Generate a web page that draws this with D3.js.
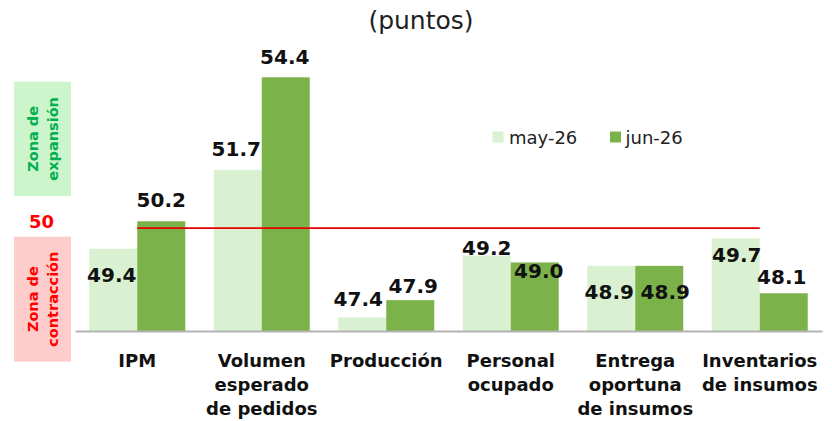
<!DOCTYPE html>
<html>
<head>
<meta charset="utf-8">
<script src="https://cdn.jsdelivr.net/npm/d3@7"></script>
<style>
  html, body { margin: 0; padding: 0; background: #fff; }
  svg { display: block; }
</style>
</head>
<body>
<svg id="chart" width="832" height="421"></svg>
<script>
// ---------- data ----------
const categories = [
  ["IPM"],
  ["Volumen", "esperado", "de pedidos"],
  ["Producción"],
  ["Personal", "ocupado"],
  ["Entrega", "oportuna", "de insumos"],
  ["Inventarios", "de insumos"]
];
const seriesNames = ["may-26", "jun-26"];
const may26 = [49.4, 51.7, 47.4, 49.2, 48.9, 49.7];
const jun26 = [50.2, 54.4, 47.9, 49.0, 48.9, 48.1];
const threshold = 50;
const thresholdLabel = "50";
const titleText = "(puntos)";
const zoneExpansion = ["Zona de", "expansión"];
const zoneContraction = ["Zona de", "contracción"];

// ---------- layout / style ----------
const W = 832, H = 421;
const colors = ["#d9f1d0", "#7cb24a"];
const fontFam = "'DejaVu Sans', sans-serif";
// label placement tweaks (relative to bar top / bar centre), per series
const labelDy = [[33, -14, -11, -1, 33, 24], [-14, -13, -7, 16, 33, -9]];
const labelDx = [[-1.5, -1.5, -4, 0, -2, 1], [0, -1, 3, 4, 6, -2]];

const svg = d3.select("#chart");
const ids = categories.map((c, i) => i);

const x = d3.scaleBand().domain(ids).range([75, 822]).paddingInner(0.229).paddingOuter(0.1145);
const xs = d3.scaleBand().domain([0, 1]).range([0, x.bandwidth()]);
const y = d3.scaleLinear().domain([47, 54.4]).range([331, 77.3]);

// title
svg.append("text").attr("x", 421).attr("y", 29).attr("text-anchor", "middle")
  .attr("font-family", fontFam).attr("font-size", 25).attr("fill", "#222")
  .text(titleText);

// bars
const series = [may26, jun26];
series.forEach((vals, s) => {
  svg.append("g").selectAll("rect").data(vals).join("rect")
    .attr("x", (d, i) => x(i) + xs(s))
    .attr("width", xs.bandwidth())
    .attr("y", d => y(d))
    .attr("height", d => y(47) - y(d))
    .attr("fill", colors[s]);
});

// threshold line (centre of first to centre of last category)
svg.append("line")
  .attr("x1", x(0) + x.bandwidth() / 2).attr("x2", x(ids.length - 1) + x.bandwidth() / 2)
  .attr("y1", y(threshold)).attr("y2", y(threshold))
  .attr("stroke", "#e60000").attr("stroke-width", 1.6);

// value labels
series.forEach((vals, s) => {
  svg.append("g").selectAll("text").data(vals).join("text")
    .attr("x", (d, i) => x(i) + xs(s) + xs.bandwidth() / 2 + labelDx[s][i])
    .attr("y", (d, i) => y(d) + labelDy[s][i])
    .attr("text-anchor", "middle")
    .attr("font-family", fontFam).attr("font-weight", "bold").attr("font-size", 20)
    .attr("fill", "#111")
    .text(d => d.toFixed(1));
});

// x axis
const xAxis = d3.axisBottom(x).tickSize(0).tickFormat("");
const gx = svg.append("g").attr("transform", "translate(0,331)").call(xAxis);
gx.select(".domain").attr("stroke", "#b3b3b3").attr("stroke-width", 2);
gx.selectAll(".tick").each(function(d) {
  const t = d3.select(this).select("text")
    .attr("y", 0).attr("dy", null)
    .attr("font-family", fontFam).attr("font-weight", "bold").attr("font-size", 18)
    .attr("fill", "#111").text(null);
  categories[d].forEach((line, k) => {
    t.append("tspan").attr("x", 0).attr("y", 36 + k * 24).text(line);
  });
});

// legend
const legend = svg.append("g");
[[492.5, 509], [610, 625.5]].forEach((p, s) => {
  legend.append("rect").attr("x", p[0]).attr("y", 131.5).attr("width", 11).attr("height", 11).attr("fill", colors[s]);
  legend.append("text").attr("x", p[1]).attr("y", 143.5)
    .attr("font-family", fontFam).attr("font-size", 18).attr("fill", "#222").text(seriesNames[s]);
});

// zone boxes
function zone(y0, y1, fill, color, lines) {
  svg.append("rect").attr("x", 14).attr("y", y0).attr("width", 57).attr("height", y1 - y0).attr("fill", fill);
  const cy = (y0 + y1) / 2;
  const t = svg.append("text")
    .attr("transform", `translate(0,${cy}) rotate(-90)`)
    .attr("text-anchor", "middle")
    .attr("font-family", fontFam).attr("font-weight", "bold").attr("font-size", 14.5)
    .attr("fill", color);
  lines.forEach((l, k) => t.append("tspan").attr("x", 0).attr("y", 37.5 + k * 20).text(l));
}
zone(81.7, 196, "#ccf5cc", "#00b050", zoneExpansion);
zone(236.7, 361.7, "#ffcccc", "#ff0000", zoneContraction);

svg.append("text").attr("x", 41.5).attr("y", 228).attr("text-anchor", "middle")
  .attr("font-family", fontFam).attr("font-weight", "bold").attr("font-size", 18)
  .attr("fill", "#ff0000").text(thresholdLabel);
</script>
</body>
</html>
